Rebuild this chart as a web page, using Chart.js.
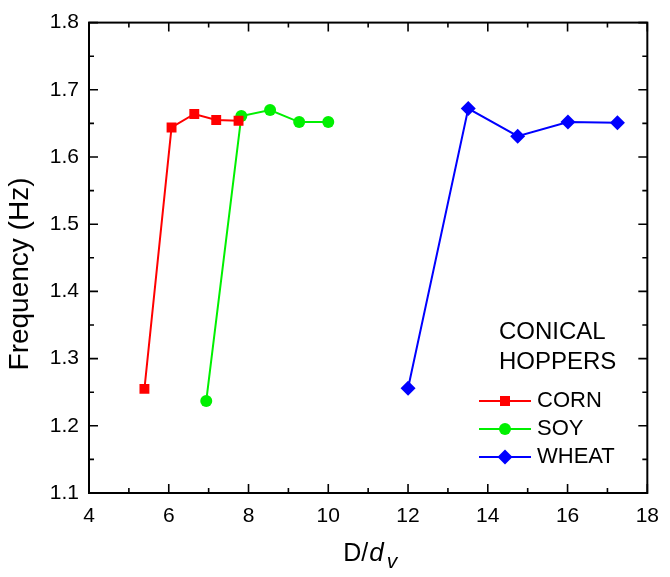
<!DOCTYPE html>
<html>
<head>
<meta charset="utf-8">
<script src="https://cdn.jsdelivr.net/npm/chart.js@4/dist/chart.umd.min.js"></script>
<style>
  html, body { margin: 0; padding: 0; background: #fff; }
  #wrap { width: 670px; height: 577px; }
</style>
</head>
<body>
<div id="wrap"><canvas id="grafiek"></canvas></div>
<script>
// data
const cornX = [5.39, 6.07, 6.64, 7.19, 7.75];
const cornY = [1.255, 1.644, 1.664, 1.655, 1.654];
const soyX = [6.94, 7.82, 8.54, 9.27, 10.0];
const soyY = [1.237, 1.661, 1.670, 1.652, 1.652];
const wheatX = [12.0, 13.51, 14.75, 16.01, 17.25];
const wheatY = [1.256, 1.672, 1.631, 1.652, 1.651];

const seriesNames = ["CORN", "SOY", "WHEAT"];
const legendTitle = ["CONICAL", "HOPPERS"];
const yTitle = "Frequency (Hz)";

const FONT = 'Arial, "Liberation Sans", sans-serif';

function punten(xs, ys) { return xs.map((x, i) => ({ x: x, y: ys[i] })); }

// inward ticks + frame on all four sides
const frameTicks = {
    id: 'frameTicks',
    afterDatasetsDraw(chart) {
        const { ctx, chartArea: a, scales: { x, y } } = chart;
        ctx.save();
        ctx.strokeStyle = '#000';
        ctx.lineWidth = 2;
        ctx.strokeRect(a.left, a.top, a.right - a.left, a.bottom - a.top);
        ctx.lineWidth = 1.6;
        ctx.beginPath();
        for (let v = 4; v <= 18.001; v += 1) {
            const px = x.getPixelForValue(v);
            const len = (Math.round(v) % 2 === 0) ? 9 : 5;
            ctx.moveTo(px, a.bottom); ctx.lineTo(px, a.bottom - len);
            ctx.moveTo(px, a.top); ctx.lineTo(px, a.top + len);
        }
        for (let i = 0; i <= 14; i++) {
            const v = 1.1 + i * 0.05;
            const py = y.getPixelForValue(v);
            const len = (i % 2 === 0) ? 9 : 5;
            ctx.moveTo(a.left, py); ctx.lineTo(a.left + len, py);
            ctx.moveTo(a.right, py); ctx.lineTo(a.right - len, py);
        }
        ctx.stroke();
        ctx.restore();
    }
};

// axis titles: x with italic d and subscript v, y rotated
const titels = {
    id: 'titels',
    afterDraw(chart) {
        const { ctx, chartArea: a } = chart;
        ctx.save();
        ctx.fillStyle = '#000';
        ctx.textBaseline = 'alphabetic';
        const base = 561;
        const f1 = '25px ' + FONT, f2 = 'italic 26px ' + FONT, f3 = 'italic 21px ' + FONT;
        ctx.font = f1; const w1 = ctx.measureText('D/').width;
        ctx.font = f2; const w2 = ctx.measureText('d').width;
        ctx.font = f3; const w3 = ctx.measureText('v').width;
        let xx = (a.left + a.right) / 2 - (w1 + w2 + w3 + 4) / 2 + 2;
        ctx.font = f1; ctx.fillText('D/', xx, base); xx += w1 + 1;
        ctx.font = f2; ctx.fillText('d', xx, base); xx += w2 + 3;
        ctx.font = f3; ctx.fillText('v', xx, base + 7);

        ctx.translate(20, 274);
        ctx.rotate(-Math.PI / 2);
        ctx.textAlign = 'center';
        ctx.textBaseline = 'middle';
        ctx.font = '28px ' + FONT;
        ctx.fillText(yTitle, 0, 0);
        ctx.restore();
    }
};

// legend inside the plot area
const binnenLegende = {
    id: 'binnenLegende',
    afterDraw(chart) {
        const { ctx } = chart;
        ctx.save();
        ctx.fillStyle = '#000';
        ctx.textBaseline = 'middle';
        ctx.font = '24px ' + FONT;
        ctx.fillText(legendTitle[0], 499, 332);
        ctx.fillText(legendTitle[1], 499, 362);
        ctx.font = '22px ' + FONT;
        chart.data.datasets.forEach((ds, i) => {
            const yy = 401 + i * 28;
            ctx.strokeStyle = ds.borderColor;
            ctx.lineWidth = 2;
            ctx.beginPath(); ctx.moveTo(479, yy); ctx.lineTo(531, yy); ctx.stroke();
            ctx.fillStyle = ds.pointBackgroundColor;
            const cx = 505;
            ctx.beginPath();
            if (ds.pointStyle === 'rect') ctx.rect(cx - 5, yy - 5, 10, 10);
            else if (ds.pointStyle === 'circle') ctx.arc(cx, yy, 6, 0, Math.PI * 2);
            else { ctx.moveTo(cx, yy - 7.5); ctx.lineTo(cx + 7.5, yy); ctx.lineTo(cx, yy + 7.5); ctx.lineTo(cx - 7.5, yy); ctx.closePath(); }
            ctx.fill();
            ctx.fillStyle = '#000';
            ctx.fillText(ds.label, 537, yy);
        });
        ctx.restore();
    }
};

function reeks(label, xs, ys, kleur, stijl, r) {
    return {
        label: label, data: punten(xs, ys), showLine: true,
        borderColor: kleur, backgroundColor: kleur,
        pointBackgroundColor: kleur, pointBorderColor: kleur, pointBorderWidth: 0,
        pointStyle: stijl, pointRadius: r, pointHoverRadius: r,
        borderWidth: 2, tension: 0
    };
}

new Chart(document.getElementById('grafiek'), {
    type: 'scatter',
    data: {
        datasets: [
            reeks(seriesNames[0], cornX, cornY, '#ff0000', 'rect', 7),
            reeks(seriesNames[1], soyX, soyY, '#00f000', 'circle', 6),
            reeks(seriesNames[2], wheatX, wheatY, '#0000ff', 'rectRot', 7.5)
        ]
    },
    options: {
        responsive: true, maintainAspectRatio: false, animation: false,
        layout: { padding: { left: 0, right: 14, top: 19, bottom: 0 } },
        plugins: { legend: { display: false }, tooltip: { enabled: false } },
        scales: {
            x: {
                type: 'linear', min: 4, max: 18,
                ticks: { stepSize: 2, color: '#000', padding: 11, font: { family: FONT, size: 21 }, maxRotation: 0 },
                grid: { display: false, drawTicks: false },
                border: { display: false },
                afterFit: s => { s.height = 84; }
            },
            y: {
                type: 'linear', min: 1.1, max: 1.8,
                ticks: { stepSize: 0.1, color: '#000', padding: 10, font: { family: FONT, size: 21 },
                         callback: v => Number(v).toFixed(1) },
                grid: { display: false, drawTicks: false },
                border: { display: false },
                afterFit: s => { s.width = 89; }
            }
        }
    },
    plugins: [frameTicks, titels, binnenLegende]
});
</script>
</body>
</html>
